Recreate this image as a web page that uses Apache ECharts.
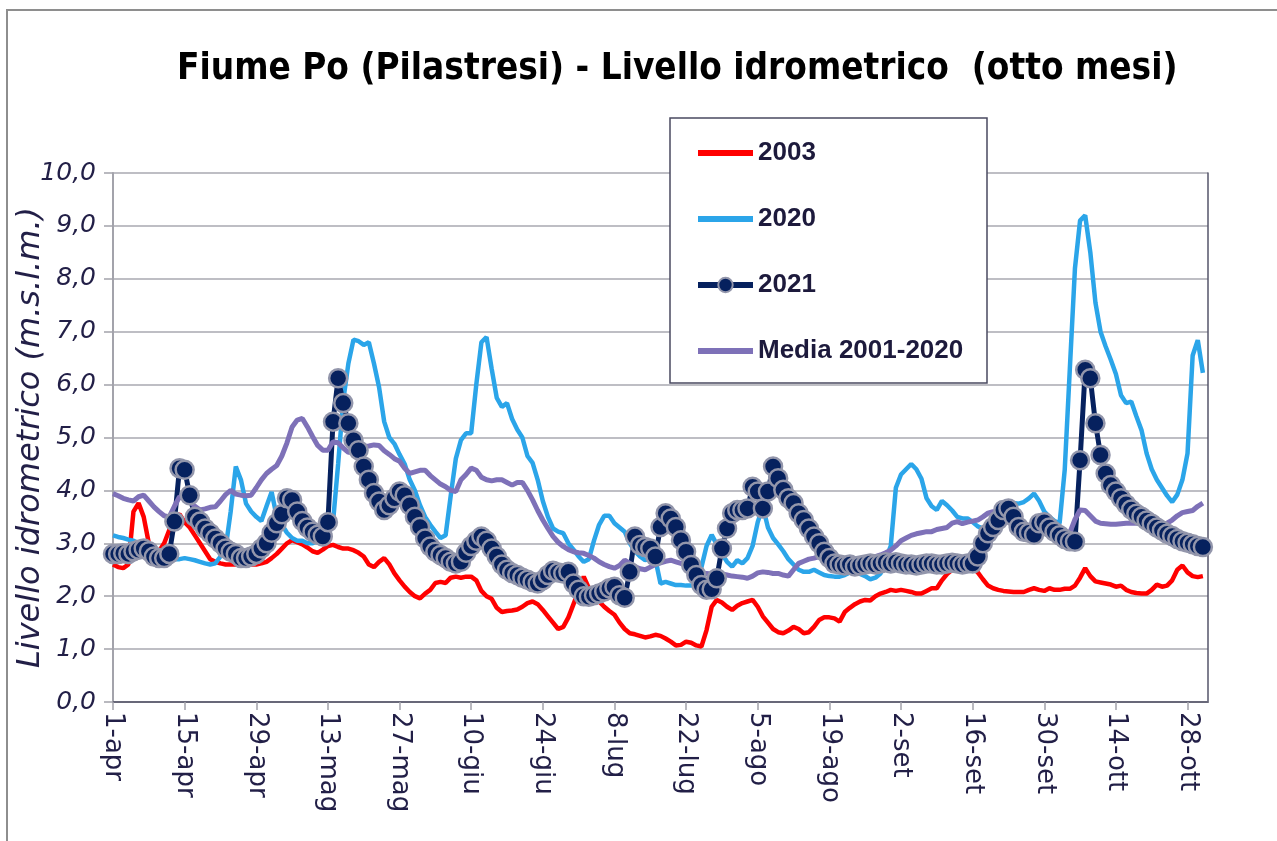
<!DOCTYPE html>
<html>
<head>
<meta charset="utf-8">
<title>Fiume Po (Pilastresi) - Livello idrometrico</title>
<script src="https://cdn.jsdelivr.net/npm/echarts@6.0.0/dist/echarts.min.js"></script>
<style>
  html, body { margin: 0; padding: 0; background: #fff; }
  #chart { width: 1277px; height: 841px; }
</style>
</head>
<body>
<div id="chart"></div>
<script>
// giorni dal 1 aprile al 1 novembre
const monthNames = ['apr', 'mag', 'giu', 'lug', 'ago', 'set', 'ott', 'nov'];
const monthDays = [30, 31, 30, 31, 31, 30, 31, 1];

// livelli giornalieri (m s.l.m.)
const serie2003 = [
  2.6, 2.55, 2.53, 2.6, 3.6, 3.76, 3.5, 3.0, 2.8, 2.85,
  3.0, 3.25, 3.5, 3.55, 3.4, 3.3, 3.15, 3.0, 2.85, 2.7,
  2.65, 2.62, 2.6, 2.6, 2.6, 2.6, 2.6, 2.6, 2.6, 2.62,
  2.65, 2.72, 2.8, 2.9, 3.0, 3.06, 3.02, 2.98, 2.92, 2.85,
  2.82, 2.88, 2.95, 2.97, 2.93, 2.9, 2.9, 2.87, 2.82, 2.75,
  2.6, 2.55, 2.65, 2.72, 2.6, 2.43, 2.3, 2.18, 2.08, 2.0,
  1.96, 2.05, 2.12, 2.25, 2.27, 2.25, 2.35, 2.37, 2.35, 2.37,
  2.37, 2.3, 2.1, 2.0, 1.95, 1.78, 1.7, 1.72, 1.73, 1.75,
  1.8, 1.87, 1.9, 1.85, 1.74, 1.62, 1.5, 1.38, 1.42, 1.6,
  1.85, 2.1, 2.37, 2.15, 2.0, 1.9, 1.8, 1.72, 1.65, 1.5,
  1.38, 1.3, 1.28, 1.25, 1.22, 1.24, 1.27, 1.25, 1.2, 1.14,
  1.07, 1.08, 1.14, 1.12, 1.07, 1.05, 1.36, 1.8, 1.93, 1.88,
  1.8, 1.74, 1.82, 1.87, 1.9, 1.93, 1.8, 1.62, 1.5, 1.38,
  1.32, 1.3, 1.35, 1.42, 1.38, 1.3, 1.32, 1.42, 1.55, 1.6,
  1.6, 1.58, 1.52, 1.7, 1.78, 1.85, 1.9, 1.93, 1.92, 2.0,
  2.05, 2.08, 2.12, 2.1, 2.12, 2.1, 2.08, 2.05, 2.05, 2.1,
  2.15, 2.15, 2.3, 2.42, 2.5, 2.5, 2.5, 2.52, 2.56, 2.45,
  2.32, 2.2, 2.15, 2.12, 2.1, 2.09, 2.08, 2.08, 2.08, 2.12,
  2.15, 2.12, 2.1, 2.15, 2.12, 2.12, 2.14, 2.14, 2.2, 2.35,
  2.53, 2.38, 2.28, 2.26, 2.24, 2.22, 2.18, 2.2, 2.12, 2.08,
  2.06, 2.05, 2.05, 2.12, 2.22, 2.18, 2.2, 2.3, 2.5, 2.58,
  2.45, 2.38, 2.36, 2.38
];

const serie2020 = [
  3.15, 3.12, 3.1, 3.07, 3.05, 3.0, 2.95, 2.9, 2.85, 2.8,
  2.75, 2.72, 2.7, 2.7, 2.72, 2.7, 2.68, 2.65, 2.62, 2.6,
  2.62, 2.75, 2.9, 3.6, 4.45, 4.2, 3.75, 3.6, 3.5, 3.42,
  3.7, 3.97, 3.5, 3.35, 3.2, 3.1, 3.05, 3.05, 3.0, 3.0,
  3.05, 3.1, 3.15, 3.4, 4.5, 5.7, 6.4, 6.85, 6.82, 6.75,
  6.8, 6.4, 5.95, 5.3, 5.0, 4.88, 4.68, 4.5, 4.2, 4.0,
  3.72, 3.5, 3.35, 3.22, 3.1, 3.15, 3.9, 4.6, 4.95, 5.08,
  5.08, 6.0, 6.8, 6.9, 6.3, 5.75, 5.58, 5.65, 5.35, 5.15,
  5.0, 4.65, 4.52, 4.2, 3.8, 3.5, 3.28, 3.22, 3.19, 3.0,
  2.88, 2.75, 2.65, 2.7, 3.05, 3.35, 3.52, 3.52, 3.38, 3.3,
  3.22, 3.0, 2.85, 2.75, 2.68, 2.72, 2.7, 2.24, 2.27, 2.24,
  2.21, 2.21, 2.2, 2.2, 2.21, 2.55, 2.95, 3.16, 2.98, 2.8,
  2.65, 2.56, 2.68, 2.62, 2.72, 2.95, 3.4, 3.69, 3.3, 3.1,
  2.98, 2.85, 2.7, 2.6, 2.5, 2.46, 2.46, 2.5, 2.45, 2.4,
  2.38, 2.37, 2.37, 2.4, 2.45, 2.47, 2.42, 2.38, 2.32, 2.35,
  2.43, 2.7, 2.95, 4.05, 4.3, 4.4, 4.5, 4.4, 4.22, 3.85,
  3.7, 3.63, 3.8, 3.72, 3.62, 3.5, 3.47, 3.47, 3.4, 3.32,
  3.28, 3.2, 3.3, 3.5, 3.65, 3.74, 3.76, 3.75, 3.78, 3.85,
  3.94, 3.8, 3.6, 3.5, 3.42, 3.38, 4.39, 6.3, 8.2, 9.1,
  9.2, 8.5, 7.55, 7.0, 6.72, 6.47, 6.2, 5.8, 5.65, 5.68,
  5.4, 5.14, 4.7, 4.4, 4.2, 4.05, 3.9, 3.78, 3.92, 4.2,
  4.7, 6.55, 6.84, 6.22
];

const serie2021 = [
  2.8, 2.8, 2.81, 2.8, 2.85, 2.88, 2.9, 2.85, 2.75, 2.72,
  2.72, 2.8, 3.41, 4.42, 4.39, 3.91, 3.5, 3.41, 3.28, 3.19,
  3.09, 3.0, 2.9, 2.84, 2.8, 2.72, 2.72, 2.75, 2.8, 2.9,
  3.0, 3.2, 3.38, 3.55, 3.85, 3.82, 3.6, 3.42, 3.3, 3.22,
  3.16, 3.13, 3.4, 5.3, 6.12, 5.65, 5.27, 4.95, 4.76, 4.45,
  4.2, 3.95, 3.79, 3.63, 3.72, 3.85, 3.98, 3.91, 3.72, 3.5,
  3.31, 3.09, 2.94, 2.84, 2.78, 2.72, 2.65, 2.62, 2.65, 2.82,
  2.95, 3.05, 3.13, 3.05, 2.9, 2.75, 2.6, 2.5, 2.44, 2.4,
  2.35, 2.31, 2.27, 2.24, 2.3, 2.4, 2.48, 2.45, 2.43, 2.46,
  2.24, 2.12, 2.0, 1.99, 2.02, 2.05, 2.09, 2.15, 2.18, 2.02,
  1.97, 2.46, 3.13, 2.97, 2.93, 2.9, 2.75, 3.31, 3.57, 3.47,
  3.31, 3.06, 2.84, 2.59, 2.4, 2.21, 2.12, 2.13, 2.34, 2.9,
  3.28, 3.57, 3.63, 3.63, 3.66, 4.07, 3.98, 3.66, 3.98, 4.45,
  4.23, 4.01, 3.85, 3.76, 3.57, 3.44, 3.28, 3.13, 3.0, 2.84,
  2.72, 2.62, 2.6, 2.58, 2.6, 2.56, 2.58, 2.6, 2.62, 2.6,
  2.62, 2.64, 2.62, 2.64, 2.62, 2.6, 2.6, 2.58, 2.6, 2.62,
  2.62, 2.6, 2.6, 2.62, 2.63, 2.62, 2.6, 2.62, 2.62, 2.75,
  3.0, 3.19, 3.31, 3.44, 3.63, 3.66, 3.5, 3.31, 3.22, 3.2,
  3.16, 3.38, 3.4, 3.3, 3.22, 3.15, 3.08, 3.04, 3.03, 4.57,
  6.28, 6.12, 5.27, 4.67, 4.32, 4.1, 3.98, 3.85, 3.74, 3.64,
  3.56, 3.5, 3.43, 3.37, 3.3, 3.24, 3.18, 3.14, 3.08, 3.04,
  3.01, 2.98, 2.95, 2.93
];

const serieMedia = [
  3.94, 3.9, 3.85, 3.82, 3.8, 3.88, 3.91, 3.8, 3.69, 3.6,
  3.52, 3.5, 3.7, 3.88, 3.85, 3.79, 3.7, 3.63, 3.65, 3.68,
  3.69, 3.8, 3.92, 4.0, 3.93, 3.91, 3.9, 3.91, 4.05, 4.2,
  4.32, 4.4, 4.47, 4.65, 4.9, 5.2, 5.33, 5.36, 5.2, 5.02,
  4.85, 4.76, 4.76, 4.92, 4.9, 4.8, 4.72, 4.72, 4.78, 4.83,
  4.84, 4.86, 4.85, 4.75, 4.68, 4.6, 4.55, 4.42, 4.32, 4.35,
  4.38, 4.38, 4.28, 4.2, 4.12, 4.07, 4.0, 3.98, 4.2, 4.3,
  4.42, 4.38, 4.25, 4.2, 4.18, 4.2, 4.2, 4.15, 4.1, 4.15,
  4.15, 4.0, 3.82, 3.62, 3.44, 3.28, 3.13, 3.02, 2.94, 2.88,
  2.84, 2.82, 2.81, 2.77, 2.72, 2.65, 2.6, 2.56, 2.53, 2.58,
  2.68, 2.62, 2.56, 2.52, 2.5, 2.55, 2.6, 2.63, 2.66, 2.68,
  2.65, 2.62, 2.58, 2.55, 2.5, 2.43, 2.43, 2.42, 2.43, 2.42,
  2.4, 2.38, 2.37, 2.36, 2.34, 2.38, 2.44, 2.46, 2.45, 2.43,
  2.43, 2.4, 2.38, 2.5, 2.62, 2.66, 2.7, 2.72, 2.75, 2.75,
  2.72, 2.65, 2.6, 2.59, 2.6, 2.63, 2.66, 2.7, 2.73, 2.75,
  2.78, 2.82, 2.87, 2.95, 3.05, 3.1, 3.15, 3.18, 3.2, 3.22,
  3.22, 3.26, 3.28, 3.3, 3.38, 3.41, 3.37, 3.4, 3.42, 3.44,
  3.5, 3.57, 3.6, 3.55, 3.47, 3.42, 3.31, 3.25, 3.22, 3.22,
  3.22, 3.3, 3.25, 3.2, 3.13, 3.12, 3.13, 3.2, 3.45, 3.63,
  3.62, 3.52, 3.42, 3.38, 3.37, 3.36, 3.36, 3.37, 3.38, 3.38,
  3.38, 3.38, 3.33, 3.3, 3.3, 3.32, 3.38, 3.44, 3.52, 3.58,
  3.6, 3.62, 3.7, 3.76
];

// etichette "1-apr", "2-apr", ...
const giorni = [];
monthNames.forEach((m, i) => {
  for (let d = 1; d <= monthDays[i]; d++) giorni.push(d + '-' + m);
});

const condensed = "'DejaVu Sans Condensed', 'Liberation Sans', sans-serif";
const verdana = "'DejaVu Sans', Verdana, sans-serif";
const textColor = '#221f47';
// icona a linea semplice per la legenda
const lineIcon = 'path://M0,0H55V6H0Z';

const chart = echarts.init(document.getElementById('chart'));

const option = {
  animation: false,
  backgroundColor: '#fff',
  title: {
    text: 'Fiume Po (Pilastresi) - Livello idrometrico  (otto mesi)',
    left: 172,
    top: 46,
    textStyle: { fontFamily: condensed, fontSize: 36.6, fontWeight: 'bold', color: '#000' }
  },
  legend: {
    data: [
      { name: '2003', icon: lineIcon },
      { name: '2020', icon: lineIcon },
      { name: '2021', lineStyle: { width: 6 } },
      { name: 'Media 2001-2020', icon: lineIcon }
    ],
    orient: 'vertical',
    left: 695,
    top: 136,
    padding: 0,
    itemWidth: 55,
    itemHeight: 18,
    itemGap: 32,
    z: 6,
    textStyle: { fontFamily: "'Liberation Sans', Arial, sans-serif", fontSize: 26, fontWeight: 'bold', color: '#1d1a3c', lineHeight: 34 }
  },
  graphic: [
    {
      type: 'rect', silent: true, z: 0,
      shape: { x: 7, y: 10, width: 1300, height: 900 },
      style: { fill: 'none', stroke: '#8e8e8e', lineWidth: 2 }
    },
    {
      type: 'rect', silent: true, z: 5,
      shape: { x: 670, y: 118, width: 317, height: 265 },
      style: { fill: '#fff', stroke: '#4a4a60', lineWidth: 1.5 }
    }
  ],
  grid: { left: 113, right: 69, top: 173, bottom: 139, outerBoundsMode: 'none' },
  xAxis: [
    {
      type: 'category',
      data: giorni,
      boundaryGap: false,
      axisLine: { lineStyle: { color: '#a3a3ab', width: 2 } },
      axisTick: { interval: 13, length: 8, lineStyle: { color: '#a3a3ab', width: 1.5 } },
      axisLabel: { interval: 13, rotate: -90, margin: 10, fontFamily: verdana, fontSize: 26, color: textColor },
      splitLine: { show: false }
    },
    {
      // bordo superiore dell'area del grafico
      type: 'category',
      data: giorni,
      boundaryGap: false,
      position: 'top',
      axisLine: { lineStyle: { color: '#55556a', width: 1.5 } },
      axisTick: { show: false },
      axisLabel: { show: false }
    }
  ],
  yAxis: [
    {
      type: 'value',
      min: 0,
      max: 10,
      interval: 1,
      name: 'Livello idrometrico (m.s.l.m.)',
      nameLocation: 'middle',
      nameRotate: 90,
      nameGap: 66,
      nameMoveOverlap: false,
      nameTextStyle: { fontFamily: verdana, fontStyle: 'italic', fontSize: 32, color: textColor },
      axisLine: { show: true, lineStyle: { color: '#a3a3ab', width: 2 } },
      axisTick: { show: true, length: 9, lineStyle: { color: '#a3a3ab', width: 1.5 } },
      axisLabel: {
        margin: 17,
        fontFamily: verdana,
        fontStyle: 'italic',
        fontSize: 25,
        color: textColor,
        formatter: v => v.toFixed(1).replace('.', ',')
      },
      splitLine: { lineStyle: { color: '#a9a9b1', width: 1.5 } }
    },
    {
      // bordo destro
      type: 'value',
      min: 0,
      max: 10,
      interval: 1,
      position: 'right',
      axisLine: { show: true, lineStyle: { color: '#55556a', width: 1.5 } },
      axisTick: { show: false },
      axisLabel: { show: false },
      splitLine: { show: false }
    }
  ],
  series: [
    {
      name: '2003',
      type: 'line',
      data: serie2003,
      symbol: 'none',
      color: '#ff0000',
      lineStyle: { color: '#ff0000', width: 4.5 }
    },
    {
      name: '2020',
      type: 'line',
      data: serie2020,
      symbol: 'none',
      color: '#2ba5e9',
      lineStyle: { color: '#2ba5e9', width: 4.5 }
    },
    {
      name: '2021',
      type: 'line',
      data: serie2021,
      symbol: 'circle',
      symbolSize: 18,
      showAllSymbol: true,
      color: '#06215e',
      itemStyle: { color: '#06215e', borderColor: '#9396ab', borderWidth: 2.5 },
      lineStyle: { color: '#06215e', width: 5 }
    },
    {
      name: 'Media 2001-2020',
      type: 'line',
      data: serieMedia,
      symbol: 'none',
      color: '#7e71b8',
      lineStyle: { color: '#7e71b8', width: 5 }
    }
  ]
};

chart.setOption(option);
</script>
</body>
</html>
